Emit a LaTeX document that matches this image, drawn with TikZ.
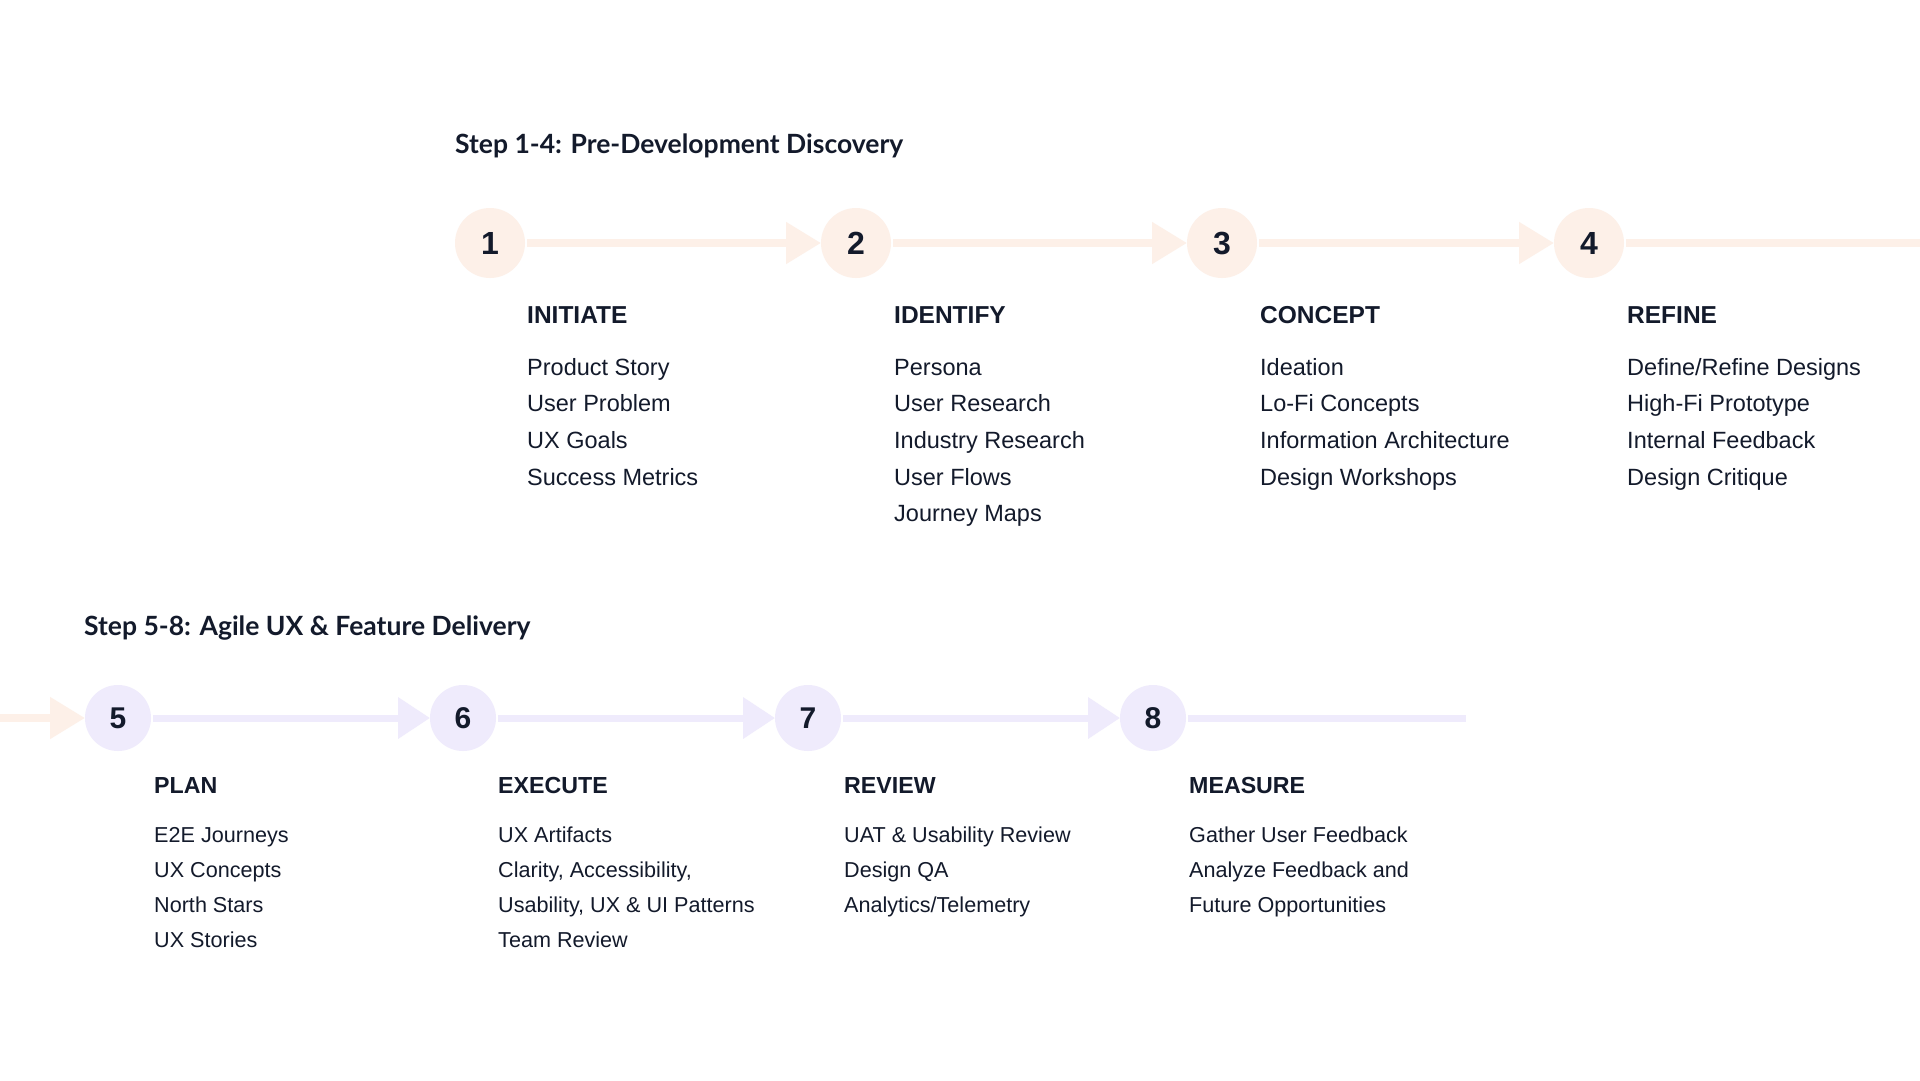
\documentclass[tikz,border=0pt]{standalone}
\usepackage{fontspec}
\setmainfont{Liberation Sans}
\newfontfamily\titlefont{Lato}
\usepackage{xcolor}
\definecolor{tinta}{HTML}{131A2B}
\definecolor{durazno}{HTML}{FDF0E8}
\definecolor{lavanda}{HTML}{EFEBFC}
\usepackage{tikz}
\usetikzlibrary{arrows.meta,positioning}
\tikzstyle{flecha}  =[shorten <=2pt, line width=8pt,
                    -{Triangle[length=35pt,width=40pt]}]
\tikzstyle{flechaB} =[shorten <=2pt, line width=7pt,
                    -{Triangle[length=32pt,width=40pt]}]
\tikzstyle{linea}   =[shorten <=2pt, line width=8pt]
\tikzstyle{lineaB}  =[shorten <=2pt, line width=7pt]
\tikzstyle{etapa}   =[circle, minimum size=70pt, inner sep=0pt,
                    outer sep=0pt, text=tinta,
                    font=\bfseries\fontsize{32}{32}\selectfont]
\tikzstyle{etapaB}  =[circle, minimum size=66pt, inner sep=0pt,
                    outer sep=0pt, text=tinta,
                    font=\bfseries\fontsize{30}{30}\selectfont]
\tikzstyle{seccion} =[anchor=base west, inner sep=0pt, text=tinta,
                    font=\titlefont\bfseries\fontsize{26.5}{30}\selectfont]
\tikzstyle{fase}    =[anchor=base west, inner sep=0pt, text=tinta,
                    font=\bfseries\fontsize{24.5}{28}\selectfont]
\tikzstyle{faseB}   =[anchor=base west, inner sep=0pt, text=tinta,
                    font=\bfseries\fontsize{23.2}{26}\selectfont]
\tikzstyle{item}    =[anchor=base west, inner sep=0pt, text=tinta,
                    font=\fontsize{23.5}{27}\selectfont]
\tikzstyle{itemB}   =[anchor=base west, inner sep=0pt, text=tinta,
                    font=\fontsize{21.6}{25}\selectfont]
\begin{document}
\begin{tikzpicture}[x=1pt,y=-1pt]

    \useasboundingbox (0,0) rectangle (1920,1080);
    \fill[white] (0,0) rectangle (1920,1080);

    % Step 1-4
    \begin{scope}
        \draw (455,153) node(s1)[seccion]{Step 1-4: Pre-Development Discovery};
        \foreach \i/\x in {1/490,2/856,3/1222,4/1589}
            \draw (\x,243) node(\i)[etapa,fill=durazno]{\i};
        \foreach \i/\j in {1/2,2/3,3/4}
            \draw [flecha,durazno] (\i) -- (\j);
        \coordinate (fin1) at (1920,243);
        \draw [linea,durazno] (4) -- (fin1);

        \draw (527,323) node(h1)[fase]{INITIATE};
        \draw (894,323) node(h2)[fase]{IDENTIFY};
        \draw (1260,323) node(h3)[fase]{CONCEPT};
        \draw (1627,323) node(h4)[fase]{REFINE};

        \foreach \t [count=\k] in {Product Story,User Problem,UX Goals,Success Metrics}
            \draw (527,{375+36.7*(\k-1)}) node(a\k)[item]{\t};
        \foreach \t [count=\k] in {Persona,User Research,Industry Research,User Flows,Journey Maps}
            \draw (894,{375+36.7*(\k-1)}) node(b\k)[item]{\t};
        \foreach \t [count=\k] in {Ideation,Lo-Fi Concepts,Information Architecture,Design Workshops}
            \draw (1260,{375+36.7*(\k-1)}) node(c\k)[item]{\t};
        \foreach \t [count=\k] in {Define/Refine Designs,High-Fi Prototype,Internal Feedback,Design Critique}
            \draw (1627,{375+36.7*(\k-1)}) node(d\k)[item]{\t};
    \end{scope}

    % Step 5-8
    \begin{scope}
        \draw (84,635) node(s2)[seccion]{Step 5-8: Agile UX \& Feature Delivery};
        \foreach \i/\x in {5/118,6/463,7/808,8/1153}
            \draw (\x,718) node(\i)[etapaB,fill=lavanda]{\i};
        \coordinate (ini2) at (0,718);
        \draw [flecha,durazno,shorten <=0pt] (ini2) -- (5);
        \foreach \i/\j in {5/6,6/7,7/8}
            \draw [flechaB,lavanda] (\i) -- (\j);
        \coordinate (fin2) at (1466,718);
        \draw [lineaB,lavanda] (8) -- (fin2);

        \draw (154,793) node(h5)[faseB]{PLAN};
        \draw (498,793) node(h6)[faseB]{EXECUTE};
        \draw (844,793) node(h7)[faseB]{REVIEW};
        \draw (1189,793) node(h8)[faseB]{MEASURE};

        \foreach \t [count=\k] in {E2E Journeys,UX Concepts,North Stars,UX Stories}
            \draw (154,{842+35*(\k-1)}) node(e\k)[itemB]{\t};
        \foreach \t [count=\k] in {UX Artifacts,{Clarity, Accessibility,},{Usability, UX \& UI Patterns},Team Review}
            \draw (498,{842+35*(\k-1)}) node(f\k)[itemB]{\t};
        \foreach \t [count=\k] in {UAT \& Usability Review,Design QA,Analytics/Telemetry}
            \draw (844,{842+35*(\k-1)}) node(g\k)[itemB]{\t};
        \foreach \t [count=\k] in {Gather User Feedback,Analyze Feedback and,Future Opportunities}
            \draw (1189,{842+35*(\k-1)}) node(m\k)[itemB]{\t};
    \end{scope}

\end{tikzpicture}
\end{document}
